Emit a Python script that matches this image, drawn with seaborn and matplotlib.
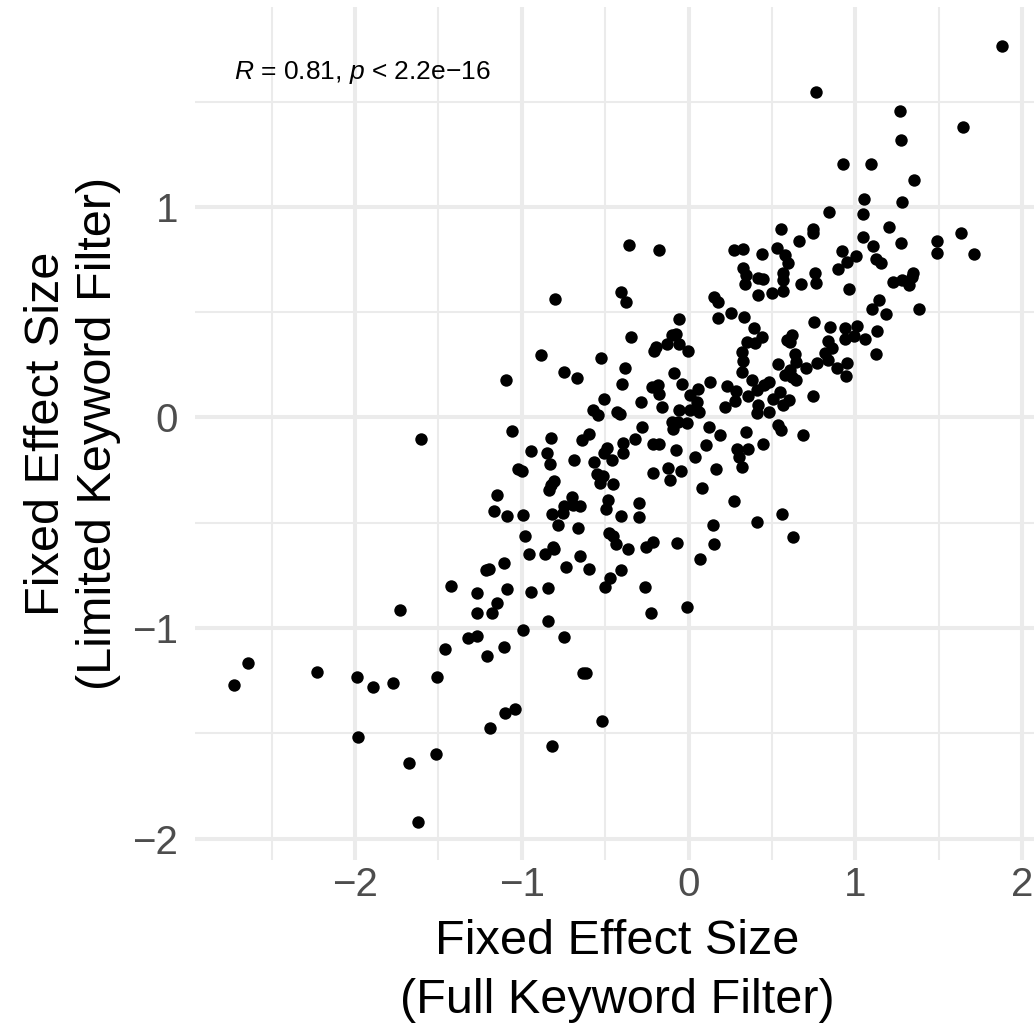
import numpy as np
import pandas as pd
import seaborn as sns
import matplotlib.pyplot as plt
from matplotlib.ticker import MultipleLocator

# effect sizes (x: full filter, y: limited filter)
full_filter = [
    -2.643, -2.727, -2.226, -1.986, -1.890, -1.774, -1.510, -1.458, -1.321, -1.270,
    -1.730, -1.267, -1.267, -1.984, -1.674, -1.516, -1.624, -1.602, -1.424, -1.208,
    -1.106, -0.991, -0.841, -0.748, -0.633, -0.612, -1.189, -1.099, -1.040, -0.820,
    -0.517, -1.180, -1.150, -1.087, -0.946, -0.841, -1.214, -1.195, -1.105, -0.958,
    -0.979, -0.859, -0.807, -0.814, -0.735, -0.651, -0.598, -0.501, -0.469, -0.405,
    -0.361, -0.435, -0.475, -0.451, -0.781, -0.661, -0.820, -0.751, -0.745, -0.694,
    -0.651, -0.697, -0.497, -0.405, -0.299, -1.168, -1.087, -0.991, -0.481, -0.297,
    -1.150, -0.225, -0.009, -0.261, -0.257, -0.215, -0.071, 0.069, 0.149, 0.155,
    0.273, 0.559, 0.413, 0.627, -0.057, 0.179, 0.253, 0.335, 0.393, -0.347,
    -0.101, -0.077, -0.197, -0.205, -0.131, -0.055, -0.005, 0.349, 0.399, 0.319,
    0.329, 0.319, 0.379, -0.886, -1.096, -0.745, -0.670, -0.523, -0.381, -0.397,
    -0.087, -0.039, -0.217, -0.181, -0.175, 0.059, 0.129, 0.229, 0.283, 0.355,
    0.409, 0.009, 0.049, -0.507, -0.287, -0.157, -0.057, 0.009, 0.065, 0.219,
    0.279, 0.419, 0.409, -0.571, -0.541, -0.431, -0.411, -0.101, -0.061, -0.091,
    -0.007, -0.281, -1.057, -0.823, -0.595, -0.637, -0.321, -0.391, -0.391, -0.491,
    -0.505, -0.215, -0.179, -0.075, 0.121, 0.191, 0.345, 0.103, 0.289, 0.305,
    0.323, 0.357, 0.041, 0.163, -0.945, -0.849, -0.831, -0.688, -0.565, -0.461,
    -1.021, -0.997, -0.551, -0.515, -0.531, -0.451, -0.213, -0.121, -0.047, -0.111,
    0.083, -0.805, -0.825, -0.837, 1.352, 1.052, 1.280, 0.844, 1.045, 1.201,
    0.553, 0.745, 0.749, 0.661, 1.045, 1.108, 1.276, 0.922, 1.004, 0.952,
    0.895, 1.123, 1.153, 0.273, 0.325, 0.439, 0.533, 0.579, 0.595, 0.329,
    0.345, 0.419, 0.449, 0.569, 0.569, 0.757, 0.763, 0.341, 0.419, 0.499,
    0.565, 0.673, 0.961, 1.345, 1.339, 1.279, 1.228, 1.321, 1.381, 1.144,
    1.102, 1.184, 0.153, 0.179, 0.439, 0.754, 0.849, 0.939, 1.012, 0.940,
    0.994, 1.058, 1.132, 1.124, 0.619, 0.589, 0.609, 0.838, 0.859, 0.819,
    0.835, 0.769, 0.640, 0.645, 0.537, 0.706, 0.889, 0.949, 0.945, 0.609,
    0.579, 0.619, 0.645, 0.481, 0.453, 0.549, 0.509, 0.603, 0.569, 0.749,
    0.483, 0.539, 0.553, 0.688, 0.445, 1.882, 0.765, 1.267, 1.646, 1.274,
    0.925, 1.093, 1.632, 1.488, 1.492, 1.714, -0.357, -0.177, -0.801, -0.407,
    -0.377,
]
limited_filter = [
    -1.165, -1.269, -1.210, -1.234, -1.280, -1.260, -1.231, -1.100, -1.046, -1.037,
    -0.915, -0.930, -0.832, -1.519, -1.640, -1.597, -1.920, -0.102, -0.799, -1.134,
    -1.090, -1.008, -0.967, -1.041, -1.214, -1.214, -1.475, -1.405, -1.386, -1.562,
    -1.442, -0.930, -0.881, -0.813, -0.828, -0.811, -0.724, -0.720, -0.693, -0.648,
    -0.562, -0.650, -0.626, -0.614, -0.709, -0.658, -0.718, -0.804, -0.761, -0.726,
    -0.623, -0.600, -0.550, -0.562, -0.509, -0.525, -0.460, -0.452, -0.420, -0.416,
    -0.419, -0.379, -0.433, -0.467, -0.471, -0.446, -0.467, -0.465, -0.392, -0.405,
    -0.368, -0.927, -0.900, -0.804, -0.614, -0.593, -0.598, -0.671, -0.511, -0.601,
    -0.397, -0.457, -0.498, -0.566, 0.468, 0.473, 0.495, 0.476, 0.424, 0.381,
    0.392, 0.397, 0.336, 0.317, 0.348, 0.348, 0.316, 0.360, 0.352, 0.313,
    0.270, 0.218, 0.178, 0.295, 0.178, 0.215, 0.186, 0.281, 0.237, 0.161,
    0.210, 0.159, 0.146, 0.154, 0.110, 0.135, 0.170, 0.150, 0.126, 0.102,
    0.131, 0.107, 0.075, 0.088, 0.075, 0.051, 0.036, 0.036, 0.028, 0.051,
    0.078, 0.059, 0.020, 0.036, 0.012, 0.028, 0.015, -0.020, -0.020, -0.056,
    -0.028, -0.045, -0.063, -0.096, -0.078, -0.107, -0.101, -0.123, -0.167, -0.146,
    -0.167, -0.127, -0.126, -0.156, -0.045, -0.083, -0.067, -0.132, -0.150, -0.186,
    -0.234, -0.150, -0.188, -0.243, -0.159, -0.170, -0.222, -0.203, -0.213, -0.203,
    -0.246, -0.256, -0.270, -0.276, -0.313, -0.317, -0.265, -0.238, -0.254, -0.297,
    -0.336, -0.300, -0.321, -0.344, 1.128, 1.037, 1.022, 0.975, 0.968, 0.905,
    0.895, 0.894, 0.878, 0.837, 0.856, 0.816, 0.828, 0.791, 0.767, 0.740,
    0.707, 0.752, 0.735, 0.794, 0.800, 0.777, 0.804, 0.773, 0.733, 0.709,
    0.677, 0.661, 0.658, 0.685, 0.653, 0.685, 0.638, 0.633, 0.582, 0.593,
    0.601, 0.633, 0.610, 0.688, 0.669, 0.653, 0.645, 0.629, 0.514, 0.557,
    0.517, 0.492, 0.571, 0.550, 0.381, 0.455, 0.431, 0.424, 0.436, 0.374,
    0.389, 0.373, 0.412, 0.302, 0.392, 0.368, 0.359, 0.365, 0.329, 0.305,
    0.273, 0.257, 0.302, 0.265, 0.253, 0.234, 0.234, 0.257, 0.197, 0.226,
    0.202, 0.194, 0.178, 0.169, 0.154, 0.120, 0.086, 0.083, 0.059, 0.102,
    0.028, -0.036, -0.059, -0.083, -0.126, 1.765, 1.546, 1.455, 1.382, 1.318,
    1.204, 1.204, 0.878, 0.840, 0.780, 0.775, 0.819, 0.796, 0.562, 0.598,
    0.550,
]
cor_label = r"$R$ = 0.81, $p$ < 2.2e−16"

df = pd.DataFrame({"full": full_filter, "limited": limited_filter})

sns.set_theme(style="white")
plt.rcParams["font.family"] = ["Liberation Sans", "DejaVu Sans"]
plt.rcParams["mathtext.fontset"] = "custom"
plt.rcParams["mathtext.rm"] = "Liberation Sans"
plt.rcParams["mathtext.it"] = "Liberation Sans:italic"

fig = plt.figure(figsize=(10.34, 10.36), dpi=100)
ax = fig.add_axes([0.1886, 0.1699, 0.8172, 0.8234])

sns.scatterplot(data=df, x="full", y="limited", ax=ax, color="black",
                s=80, linewidth=0, zorder=3)

ax.set_xlim(-2.96, 2.108)
ax.set_ylim(-2.102, 1.95)
ax.xaxis.set_major_locator(MultipleLocator(1))
ax.yaxis.set_major_locator(MultipleLocator(1))
ax.xaxis.set_minor_locator(MultipleLocator(0.5))
ax.yaxis.set_minor_locator(MultipleLocator(0.5))

ax.grid(which="major", color="#EBEBEB", linewidth=2.9)
ax.grid(which="minor", color="#EBEBEB", linewidth=1.45)
ax.set_axisbelow(True)
for s in ax.spines.values():
    s.set_visible(False)

ax.tick_params(which="both", length=0)
ax.tick_params(axis="x", labelsize=29, labelcolor="#4D4D4D", pad=4)
ax.tick_params(axis="y", labelsize=29, labelcolor="#4D4D4D", pad=12)

ax.set_xlabel("Fixed Effect Size\n(Full Keyword Filter)", fontsize=35,
              color="black", labelpad=11, linespacing=1.4)
ax.set_ylabel("Fixed Effect Size\n(Limited Keyword Filter)", fontsize=35,
              color="black", labelpad=8)

ax.text(min(full_filter), 1.637, cor_label, fontsize=19, ha="left",
        va="center", color="black")

fig.savefig("out.png", dpi=100)
